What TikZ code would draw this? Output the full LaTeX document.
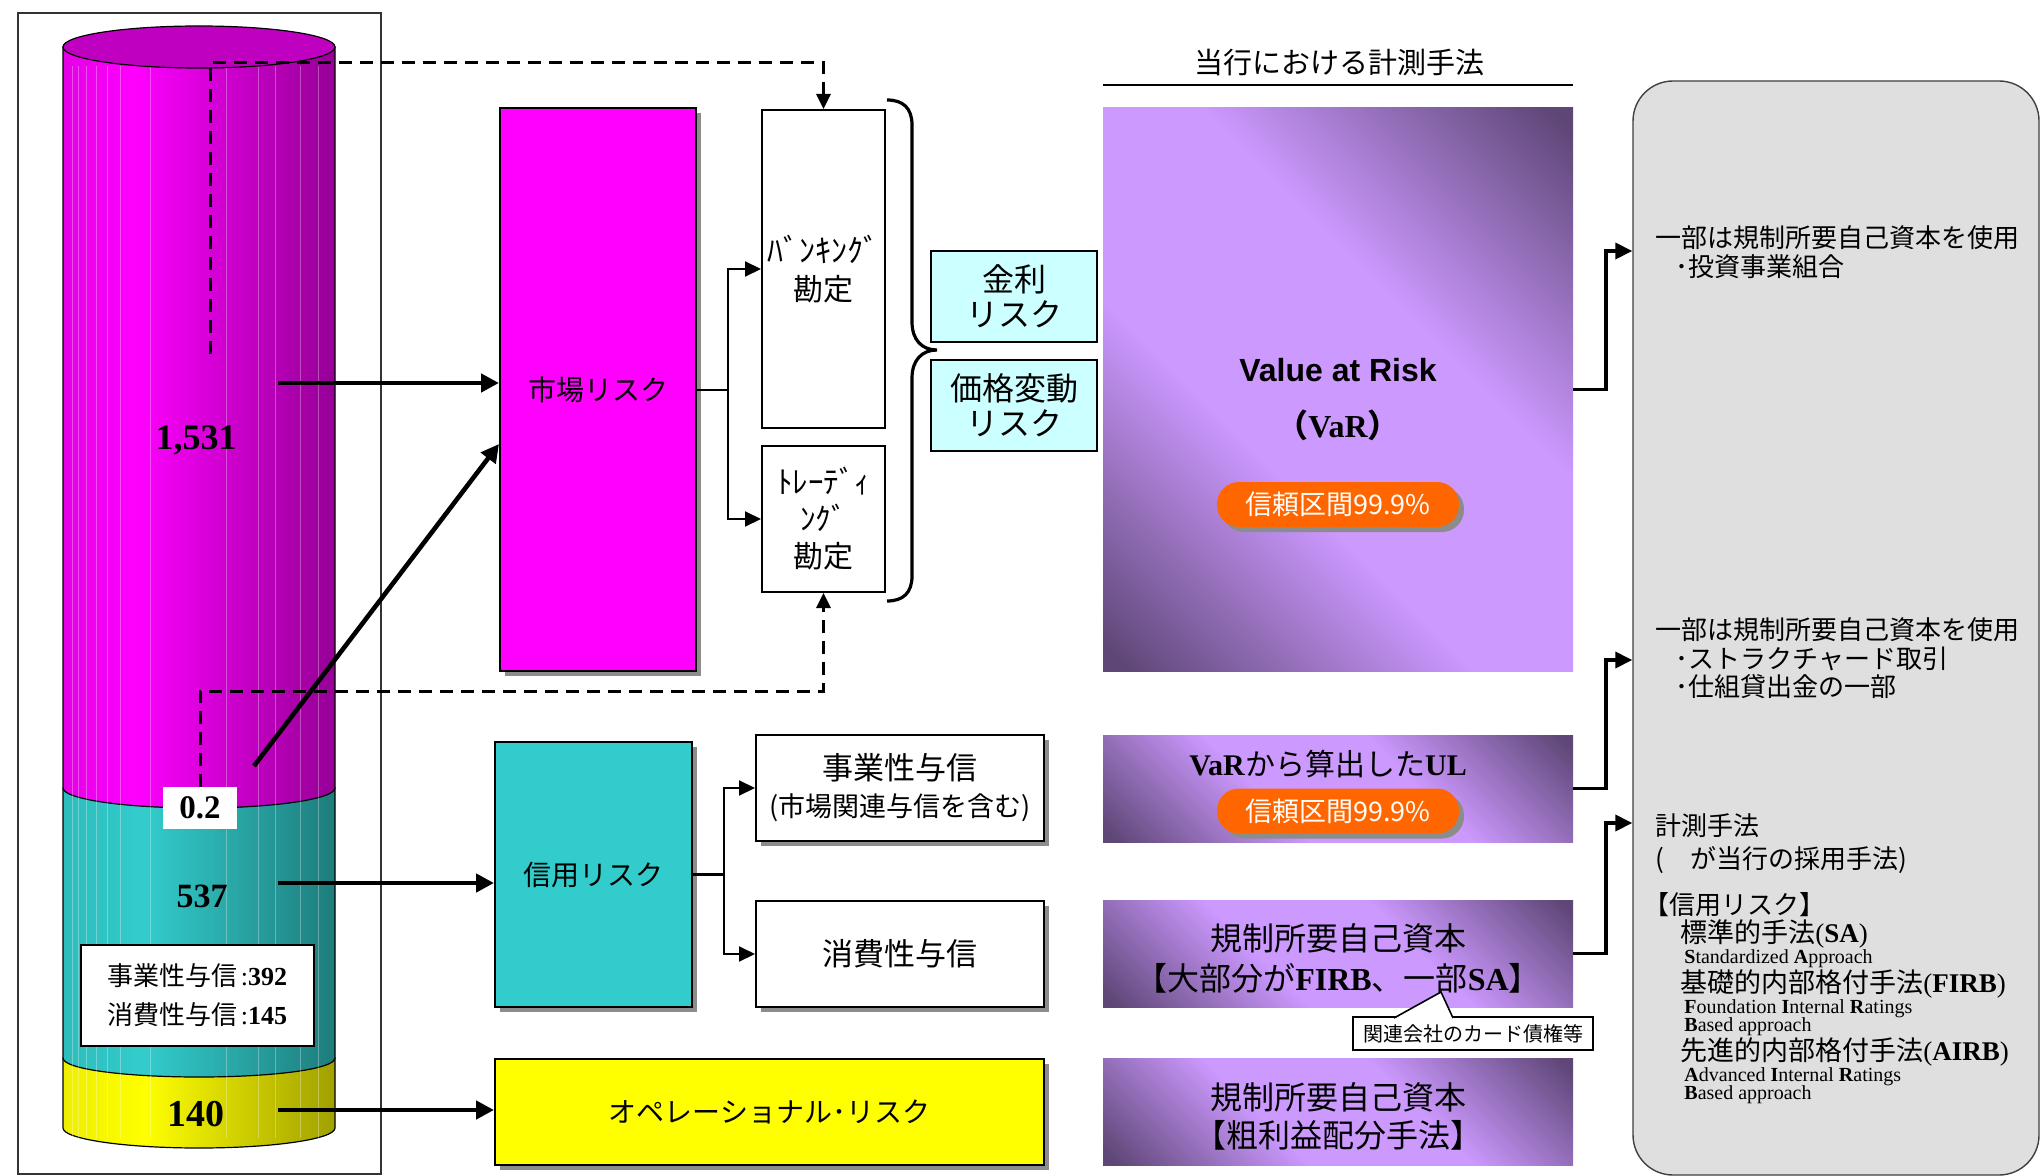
\documentclass[tikz,border=0pt]{standalone}
\usepackage{fontspec}
\setmainfont{Liberation Serif}
\newfontfamily\jp{Noto Sans CJK JP}
\newfontfamily\arial{Liberation Sans}
\usetikzlibrary{arrows.meta,shadows,calc}
\definecolor{magB}{HTML}{FF00FF}
\definecolor{magL}{HTML}{E400E4}
\definecolor{magD}{HTML}{960096}
\definecolor{magT}{HTML}{C000C0}
\definecolor{tealB}{HTML}{33CCCC}
\definecolor{tealL}{HTML}{2EBCBC}
\definecolor{tealD}{HTML}{1E7C7C}
\definecolor{yelB}{HTML}{FFFF00}
\definecolor{yelL}{HTML}{EEEE00}
\definecolor{yelD}{HTML}{A0A000}
\definecolor{cyanbox}{HTML}{CCFFFF}
\definecolor{credbox}{HTML}{33CCCC}
\definecolor{pl}{HTML}{CC99FF}
\definecolor{pd}{HTML}{5E4676}
\definecolor{orangeP}{HTML}{FF6600}
\definecolor{rgray}{HTML}{DFDFDF}
\pgfdeclarehorizontalshading{magcyl}{100bp}{color(0bp)=(magL); color(25bp)=(magL); color(38bp)=(magB); color(75bp)=(magD); color(100bp)=(magD)}
\pgfdeclarehorizontalshading{tealcyl}{100bp}{color(0bp)=(tealL); color(25bp)=(tealL); color(40bp)=(tealB); color(75bp)=(tealD); color(100bp)=(tealD)}
\pgfdeclarehorizontalshading{yelcyl}{100bp}{color(0bp)=(yelL); color(25bp)=(yelL); color(40bp)=(yelB); color(75bp)=(yelD); color(100bp)=(yelD)}
\pgfdeclareverticalshading{purp}{100bp}{color(0bp)=(pd); color(16bp)=(pd); color(40bp)=(pl); color(60bp)=(pl); color(84bp)=(pd); color(100bp)=(pd)}
\newcommand\serb[1]{{\rmfamily\bfseries #1}}
\begin{document}
\begin{tikzpicture}[x=0.5pt,y=-0.5pt,
  box/.style={draw=black,line width=1pt,inner sep=0pt,align=center},
  shbox/.style={box,drop shadow={shadow xshift=2.5pt,shadow yshift=-2.5pt,fill=black!45,opacity=1}},
  purpbox/.style={shade,shading=purp,shading angle=-45,inner sep=0pt,minimum width=235pt},
  pill/.style={fill=orangeP,rounded corners=11pt,minimum width=121pt,minimum height=22.5pt,inner sep=0pt,text=white,font=\jp\fontsize{13.5}{15}\selectfont,drop shadow={shadow xshift=2.5pt,shadow yshift=-2.5pt,fill=black!45,opacity=1}},
  lbl/.style={inner sep=0pt,align=center},
  rt/.style={inner sep=0pt,anchor=west,font=\jp\fontsize{13}{15}\selectfont},
  rs/.style={inner sep=0pt,anchor=west,font=\jp\fontsize{13.5}{15}\selectfont},
  en/.style={inner sep=0pt,anchor=west,font=\rmfamily\fontsize{10}{11}\selectfont},
  num/.style={inner sep=0pt,font=\bfseries\fontsize{18}{20}\selectfont},
  thickarr/.style={line width=2.3pt,-{Triangle[length=9pt,width=9pt]}},
  thinarr/.style={line width=1pt,-{Triangle[length=8pt,width=7.5pt]}},
  dasharr/.style={line width=1.5pt,dash pattern=on 6.5pt off 4pt,-{Triangle[length=7.5pt,width=7pt]}},
  rarr/.style={line width=1.8pt,-{Triangle[length=8.5pt,width=8pt]}},
  cyl/.style={draw=black,line width=0.6pt},
  stripe/.style={white,line width=0.4pt,opacity=0.3}]
\useasboundingbox (0,0) rectangle (2043,1176);
\fill[white] (0,0) rectangle (2043,1176);
% left frame
\draw[line width=0.8pt,black!80] (18,13) rectangle (381,1174);
% cylinder
\shadedraw[cyl,shading=yelcyl] (63,1058) -- (63,1128) .. controls (63,1139) and (124,1148) .. (199,1148) .. controls (274,1148) and (335,1139) .. (335,1128) -- (335,1058) -- cycle;
\shadedraw[cyl,shading=tealcyl] (63,788) -- (63,1058) .. controls (63,1069) and (124,1077) .. (199,1077) .. controls (274,1077) and (335,1069) .. (335,1058) -- (335,788) -- cycle;
\shadedraw[cyl,shading=magcyl] (63,47) -- (63,788) .. controls (63,799) and (124,808) .. (199,808) .. controls (274,808) and (335,799) .. (335,788) -- (335,47) -- cycle;
\foreach \sx in {72,78,86,96,107,120,150,226,258,275,300,318}{
  \draw[stripe] (\sx,66) -- (\sx,1138);
}
\filldraw[cyl,fill=magT] (199,47) ellipse [x radius=136, y radius=21];
% cylinder labels
\node[num] (v1531) at (196,440) {1,531};
\node[num,font=\bfseries\fontsize{17}{19}\selectfont] (v537) at (202,896) {537};
\node[num,font=\bfseries\fontsize{19}{21}\selectfont] (v140) at (196,1114) {140};
\node[fill=white,minimum width=37pt,minimum height=21pt,inner sep=0pt,font=\bfseries\fontsize{16.5}{18}\selectfont] (v02) at (200,808) {0.2};
\node[draw=black,line width=1pt,fill=white,minimum width=116.5pt,minimum height=50.5pt,align=center,inner sep=0pt,font=\fontsize{13}{19.5}\selectfont] (split) at (197.5,995.5) {{\jp 事業性与信}\kern1.5pt:\textbf{392}\\{\jp 消費性与信}\kern1.5pt:\textbf{145}};
% market risk section
\node[shbox,fill=magB,minimum width=98pt,minimum height=281.5pt,font=\jp\fontsize{14}{16}\selectfont] (mkt) at (598,389.5) {市場リスク};
\node[box,fill=white,minimum width=61.5pt,minimum height=159pt,font=\jp\fontsize{15}{19}\selectfont] (bank) at (823.5,269) {{\fontsize{16}{19}\selectfont ﾊﾞﾝｷﾝｸﾞ}\\勘定};
\node[box,fill=white,minimum width=61.5pt,minimum height=73pt,font=\jp\fontsize{15}{18.5}\selectfont] (trade) at (823.5,519) {{\fontsize{15.5}{18.5}\selectfont ﾄﾚｰﾃﾞｨ}\\{\fontsize{15.5}{18.5}\selectfont ﾝｸﾞ}\\勘定};
\draw[line width=1.6pt] (887,100) .. controls (903,100) and (912,108) .. (912,125) -- (912,322) .. controls (912,340) and (922,350) .. (937,350) .. controls (922,350) and (912,360) .. (912,378) -- (912,576) .. controls (912,593) and (903,601) .. (887,601);
\node[box,fill=cyanbox,minimum width=83pt,minimum height=45.5pt,font=\jp\fontsize{16}{17.5}\selectfont] (kinri) at (1014,296.5) {金利\\リスク};
\node[box,fill=cyanbox,minimum width=83pt,minimum height=45.5pt,font=\jp\fontsize{16}{17.5}\selectfont] (kakaku) at (1014,405.5) {価格変動\\リスク};
% credit & operational
\node[shbox,fill=credbox,minimum width=98.5pt,minimum height=132.5pt,font=\jp\fontsize{14}{16}\selectfont] (cred) at (593.5,874.5) {信用リスク};
\node[shbox,fill=white,minimum width=144pt,minimum height=53pt,font=\jp\fontsize{15.5}{18.5}\selectfont] (biz) at (900,788) {事業性与信\\{\fontsize{13.5}{15}\selectfont (市場関連与信を含む)}};
\node[shbox,fill=white,minimum width=144pt,minimum height=53pt,font=\jp\fontsize{15.5}{18.5}\selectfont] (cons) at (900,954) {消費性与信};
\node[shbox,fill=yelB,minimum width=274.5pt,minimum height=53pt,font=\jp\fontsize{14}{16}\selectfont] (oper) at (769.5,1112) {オペレーショナル･リスク};
% header
\node[lbl,font=\jp\fontsize{14.5}{16}\selectfont] (hdr) at (1339,63) {当行における計測手法};
\coordinate (hl) at (1103,85);
\coordinate (hr) at (1573,85);
\draw[line width=1.3pt] (hl) -- (hr);
% purple boxes
\node[purpbox,minimum height=281.5pt] (var) at (1338,389.5) {};
\node[lbl,font=\arial\bfseries\fontsize{16}{18}\selectfont] (vart) at (1338,370) {Value at Risk};
\node[lbl,font=\bfseries\fontsize{16}{18}\selectfont] (varab) at (1338,425) {{\jp （}VaR{\jp ）}};
\node[pill] (pill1) at (1338,504.5) {信頼区間99.9\%};
\node[purpbox,minimum height=53.5pt] (ul) at (1338,788.5) {};
\node[lbl,font=\fontsize{15}{17}\selectfont] (ult) at (1328,764) {\textbf{VaR}{\jp から算出した}\textbf{UL}};
\node[pill] (pill2) at (1338,811) {信頼区間99.9\%};
\node[purpbox,minimum height=53.5pt] (reg1) at (1338,953.5) {};
\node[lbl,font=\jp\fontsize{16}{20}\selectfont] (reg1t) at (1338,958) {規制所要自己資本\\【大部分が\serb{FIRB}、一部\serb{SA}】};
\node[purpbox,minimum height=53.5pt] (reg2) at (1338,1111.5) {};
\node[lbl,font=\jp\fontsize{16}{19}\selectfont] (reg2t) at (1338,1116) {規制所要自己資本\\【粗利益配分手法】};
% callout
\node[draw=black,fill=white,line width=0.8pt,minimum width=120pt,minimum height=16.5pt,inner sep=0pt,font=\jp\fontsize{10}{12}\selectfont] (callout) at (1473,1033.5) {関連会社のカード債権等};
\coordinate (cp1) at (1394,1018);
\coordinate (cp2) at (1441,992);
\coordinate (cp3) at (1453,1018);
\fill[white] (1393,1019.5) -- (cp2) -- (1454,1019.5) -- cycle;
\draw[line width=0.8pt] (cp1) -- (cp2) -- (cp3);
% right rounded box
\node[draw=black!75,fill=rgray,line width=0.7pt,rounded corners=20pt,minimum width=203pt,minimum height=547pt,inner sep=0pt] (rbox) at (1836,628) {};
\node[rt] (t1a) at (1655,238) {一部は規制所要自己資本を使用};
\node[rt] (t1b) at (1675,267) {･投資事業組合};
\node[rt] (t2a) at (1655,630) {一部は規制所要自己資本を使用};
\node[rt] (t2b) at (1675,659) {･ストラクチャード取引};
\node[rt] (t2c) at (1675,687) {･仕組貸出金の一部};
\node[rt] (t3a) at (1655,826) {計測手法};
\node[rt] (t3b) at (1655,860) {(\hspace{13pt}が当行の採用手法)};
\node[rt] (t3c) at (1643,905) {【信用リスク】};
\node[rs] (t4a) at (1680,934) {標準的手法{\rmfamily(\textbf{SA})}};
\node[en] (t4b) at (1684,959) {\textbf{S}tandardized \textbf{A}pproach};
\node[rs] (t5a) at (1680,984) {基礎的内部格付手法{\rmfamily(\textbf{FIRB})}};
\node[en] (t5b) at (1684,1009) {\textbf{F}oundation \textbf{I}nternal \textbf{R}atings};
\node[en] (t5c) at (1684,1027) {\textbf{B}ased approach};
\node[rs] (t6a) at (1680,1052) {先進的内部格付手法{\rmfamily(\textbf{AIRB})}};
\node[en] (t6b) at (1684,1077) {\textbf{A}dvanced \textbf{I}nternal \textbf{R}atings};
\node[en] (t6c) at (1684,1095) {\textbf{B}ased approach};
% dashed arrows
\coordinate (dt) at (210,354);
\coordinate (dtop) at (210,63);
\draw[dasharr] (dt) -- (dtop) -| (bank.north);
\coordinate (dl) at (823.5,691);
\draw[dasharr] (v02.north) |- (dl) -- (trade.south);
% thick arrows from cylinder
\coordinate (s1) at (278,383);
\draw[thickarr] (s1) -- (s1 -| mkt.west);
\coordinate (s2) at (254,766);
\draw[thickarr] (s2) -- ($(mkt.west)+(0,54.5)$);
\coordinate (s3) at (278,883);
\draw[thickarr] (s3) -- (s3 -| cred.west);
\coordinate (s4) at (278,1110);
\draw[thickarr] (s4) -- (s4 -| oper.west);
% branches
\coordinate (jm) at (728,389.5);
\draw[line width=1pt] (mkt.east) -- (jm);
\draw[thinarr] (jm) |- (bank.west);
\draw[thinarr] (jm) |- (trade.west);
\coordinate (jc) at (724,874.5);
\draw[line width=1.2pt] (cred.east) -- (jc);
\draw[thinarr] (jc) |- (biz.west);
\draw[thinarr] (jc) |- (cons.west);
% right connectors
\coordinate (r1) at (1606,251);
\draw[rarr] (var.east) -| (r1) -- (r1 -| rbox.west);
\coordinate (r2) at (1606,660);
\draw[rarr] (ul.east) -| (r2) -- (r2 -| rbox.west);
\coordinate (r3) at (1606,823);
\draw[rarr] (reg1.east) -| (r3) -- (r3 -| rbox.west);
\end{tikzpicture}
\end{document}
